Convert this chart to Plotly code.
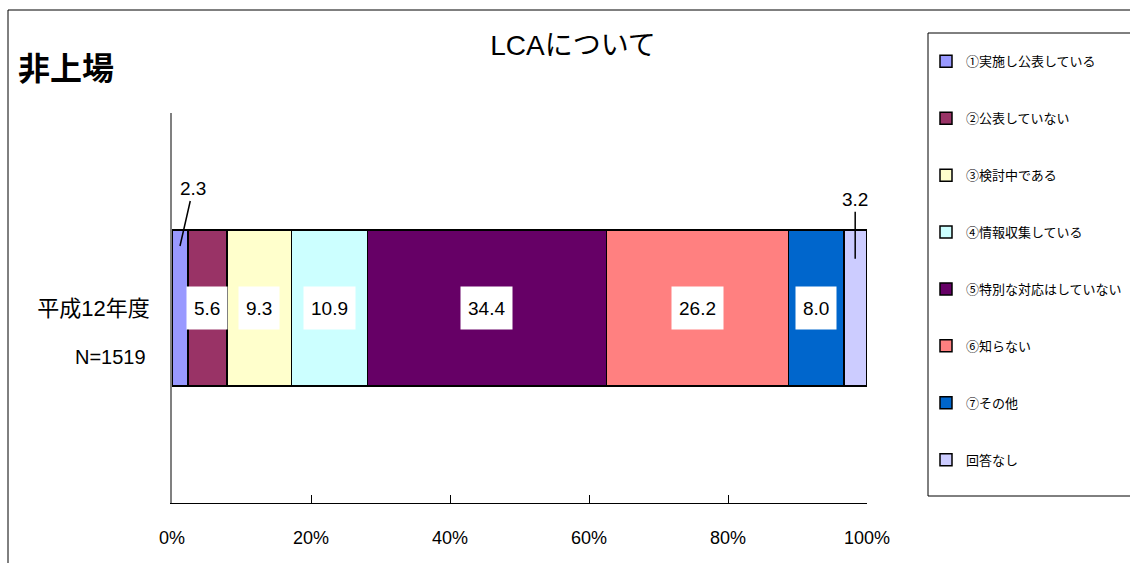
import plotly.graph_objects as go

category = "平成12年度"
n_label = "N=1519"
series_names = ["①実施し公表している", "②公表していない", "③検討中である", "④情報収集している",
                "⑤特別な対応はしていない", "⑥知らない", "⑦その他", "回答なし"]
values = [2.3, 5.6, 9.3, 10.9, 34.4, 26.2, 8.0, 3.2]
colors = ["#9999FF", "#993366", "#FFFFCC", "#CCFFFF", "#660066", "#FF8080", "#0066CC", "#CCCCFF"]
tick_vals = [0, 20, 40, 60, 80, 100]
tick_text = ["0%", "20%", "40%", "60%", "80%", "100%"]

FONT = "Liberation Sans, Noto Sans CJK JP, sans-serif"
JFONT = "Noto Sans CJK JP, sans-serif"

W, H = 1130, 563
ML, MR, MT, MB = 172, 263, 113, 60
PW, PH = W - ML - MR, H - MT - MB

def px_x(px):
    return (px - ML) / PW

def px_y(py):
    return (H - MB - py) / PH

fig = go.Figure()
for i, (name, v, c) in enumerate(zip(series_names, values, colors)):
    fig.add_trace(go.Bar(
        y=[category], x=[v], name=name, orientation="h",
        marker=dict(color=c, line=dict(color="black", width=1.5)),
        width=0.4, legendgroup=f"g{i}", hoverinfo="name+x",
    ))

annotations = []
cum = 0
for i, v in enumerate(values):
    mid = cum + v / 2
    cum += v
    if v >= 5:
        annotations.append(dict(
            x=mid, y=category, xref="x", yref="y", text=f"{v:.1f}", showarrow=False,
            bgcolor="white", borderpad=7, height=28,
            font=dict(family=FONT, size=19, color="black"),
        ))
    else:
        first = i == 0
        annotations.append(dict(
            x=mid, y=0.159 if first else 0.126, xref="x", yref="y", text=f"{v:.1f}",
            showarrow=True, arrowhead=0, arrowwidth=1.5, arrowcolor="black",
            ax=13 if first else 0, ay=-57 if first else -59, standoff=0,
            font=dict(family=FONT, size=19, color="black"),
        ))

annotations.append(dict(
    x=px_x(110), y=px_y(357), xref="paper", yref="paper", text=n_label, showarrow=False,
    font=dict(family=FONT, size=20, color="black"), xanchor="center", yanchor="middle",
))
annotations.append(dict(
    x=px_x(16), y=px_y(66), xref="paper", yref="paper", text="<b>非上場</b>", showarrow=False,
    font=dict(family=JFONT, size=32, color="black"), xanchor="left", yanchor="middle",
))

fig.update_layout(
    width=W, height=H,
    margin=dict(l=ML, r=MR, t=MT, b=MB, autoexpand=False),
    paper_bgcolor="white", plot_bgcolor="white",
    barmode="stack",
    title=dict(text="LCAについて", x=573 / W, xanchor="center", y=1 - 45 / H, yanchor="middle",
               font=dict(family=FONT, size=28, color="black")),
    xaxis=dict(range=[0, 100], tickvals=tick_vals, ticktext=tick_text, ticks="inside",
               ticklen=8, tickcolor="black", showline=True, linecolor="black", linewidth=1.2,
               showgrid=False, zeroline=False, ticklabelstandoff=18,
               tickfont=dict(family=FONT, size=18, color="black")),
    yaxis=dict(range=[-0.5, 0.5], showline=True, linecolor="#808080", linewidth=1.5,
               ticks="inside", tickson="boundaries", ticklen=8, tickcolor="black",
               showgrid=False, zeroline=False, ticklabelstandoff=16,
               tickfont=dict(family=FONT, size=22, color="black")),
    legend=dict(x=px_x(926), y=px_y(36), xanchor="left", yanchor="top",
                borderwidth=0, bgcolor="rgba(0,0,0,0)",
                traceorder="grouped", tracegroupgap=37, maxheight=520,
                title=dict(text=" ", font=dict(size=8)),
                font=dict(family=JFONT, size=13, color="black")),
    annotations=annotations,
    shapes=[
        dict(type="rect", xref="paper", yref="paper", x0=px_x(8), x1=px_x(1200),
             y0=px_y(620), y1=px_y(10), line=dict(color="black", width=1), layer="below"),
        dict(type="rect", xref="paper", yref="paper", x0=px_x(928), x1=px_x(1200),
             y0=px_y(496), y1=px_y(33), line=dict(color="black", width=1), layer="below"),
    ],
)

fig.write_html("out.html")
